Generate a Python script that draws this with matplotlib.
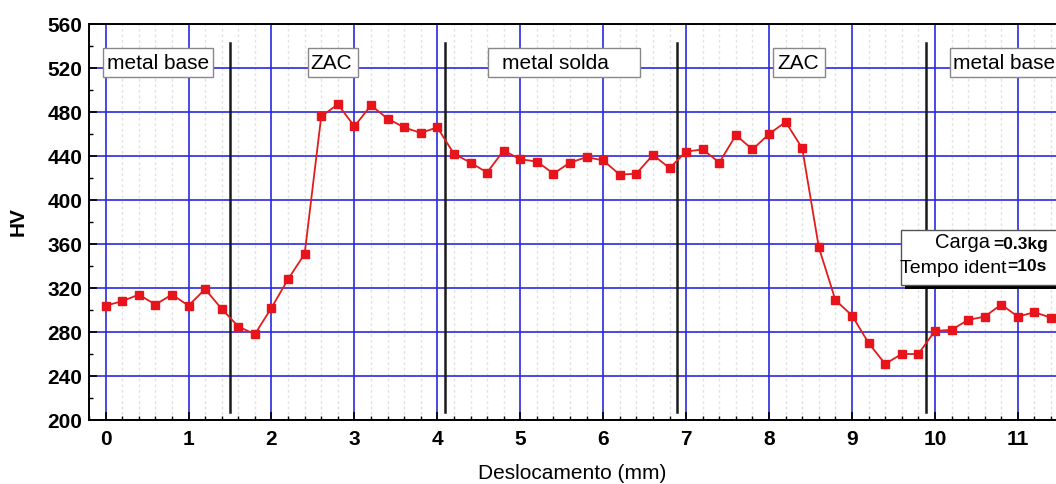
import numpy as np
import matplotlib
matplotlib.use("Agg")
import matplotlib.pyplot as plt
from matplotlib.patches import Rectangle
from matplotlib.ticker import MultipleLocator

plt.rcParams['font.family'] = ['Liberation Sans', 'DejaVu Sans']

# hardness profile, one indentation every 0.2 mm
desloc = [0.0, 0.2, 0.4, 0.6, 0.8, 1.0, 1.2, 1.4, 1.6, 1.8,
          2.0, 2.2, 2.4, 2.6, 2.8, 3.0, 3.2, 3.4, 3.6, 3.8,
          4.0, 4.2, 4.4, 4.6, 4.8, 5.0, 5.2, 5.4, 5.6, 5.8,
          6.0, 6.2, 6.4, 6.6, 6.8, 7.0, 7.2, 7.4, 7.6, 7.8,
          8.0, 8.2, 8.4, 8.6, 8.8, 9.0, 9.2, 9.4, 9.6, 9.8,
          10.0, 10.2, 10.4, 10.6, 10.8, 11.0, 11.2, 11.4]
hv = [304, 308, 314, 305, 314, 304, 319, 301, 285, 278,
      302, 328, 351, 476, 487, 467, 486, 474, 466, 461,
      466, 442, 434, 425, 445, 437, 435, 424, 434, 439,
      436, 423, 424, 441, 429, 444, 446, 434, 459, 446,
      460, 471, 447, 357, 309, 295, 270, 251, 260, 260,
      281, 282, 291, 294, 305, 294, 298, 293]

# zone boundaries and labels
limites = [1.50, 4.09, 6.89, 9.89]
zonas = ["metal base", "ZAC", "metal solda", "ZAC", "metal base"]
zonas_caixa = [(-0.036, 1.291), (2.437, 3.04), (4.608, 6.44), (8.046, 8.673), (10.18, 11.6)]
zonas_texto = [0.012, 2.473, 4.777, 8.106, 10.217]

fig = plt.figure(figsize=(10.56, 4.84), dpi=100)
ax = fig.add_axes([0.0843, 0.1322, 0.9157, 0.8182])

ax.set_xlim(-0.2, 11.46)
ax.set_ylim(200, 560)
ax.xaxis.set_major_locator(MultipleLocator(1))
ax.xaxis.set_minor_locator(MultipleLocator(0.2))
ax.yaxis.set_major_locator(MultipleLocator(40))
ax.yaxis.set_minor_locator(MultipleLocator(20))

ax.grid(True, which='major', color='#2a2ae0', linewidth=1.2)
ax.grid(True, which='minor', axis='x', color='#e2e2e2', linewidth=1.0, linestyle=(0, (2, 2)))
ax.set_axisbelow(True)

ax.tick_params(which='both', direction='in', top=False, right=False)
ax.tick_params(which='major', length=6, width=1.2, labelsize=15)
ax.tick_params(axis='y', which='major', pad=5)
ax.tick_params(axis='x', which='major', pad=7)
ax.tick_params(which='minor', length=3, width=1.0)
for lab in ax.get_xticklabels() + ax.get_yticklabels():
    lab.set_fontweight('bold')
for s in ['left', 'bottom', 'top']:
    ax.spines[s].set_linewidth(1.4)
ax.spines['right'].set_visible(False)

for xb in limites:
    ax.plot([xb, xb], [207, 543], color='#1a1a1a', linewidth=1.8, zorder=3)

ax.plot(desloc, hv, color='#e21b1b', linewidth=1.3, marker='s',
        markersize=5.5, markerfacecolor='#e8141b', markeredgecolor='#e8141b', zorder=4)

for (x0, x1), xt, nome in zip(zonas_caixa, zonas_texto, zonas):
    ax.add_patch(Rectangle((x0, 511.8), x1 - x0, 26.4, facecolor='white',
                           edgecolor='#888888', linewidth=1, zorder=5))
    ax.text(xt, 524.5, nome, fontsize=15, ha='left', va='center', zorder=6)

# test conditions box with drop shadow
ax.add_patch(Rectangle((9.64, 319.0), 2.0, 50, facecolor='black', edgecolor='none', zorder=5))
ax.add_patch(Rectangle((9.59, 322.7), 2.0, 50, facecolor='white', edgecolor='#555555', linewidth=1, zorder=6))
ax.text(10.0, 361, "Carga", fontsize=14.5, ha='left', va='center', zorder=7)
ax.text(10.70, 360, "=0.3kg", fontsize=12.5, fontweight='bold', ha='left', va='center', zorder=7)
ax.text(9.58, 338, "Tempo ident", fontsize=14, ha='left', va='center', zorder=7)
ax.text(10.87, 340, "=10s", fontsize=12.5, fontweight='bold', ha='left', va='center', zorder=7)

ax.set_xlabel("Deslocamento (mm)", fontsize=15, labelpad=11)
ax.set_ylabel("HV", fontsize=15, fontweight='bold', labelpad=14)

fig.savefig("out.png", dpi=100)
